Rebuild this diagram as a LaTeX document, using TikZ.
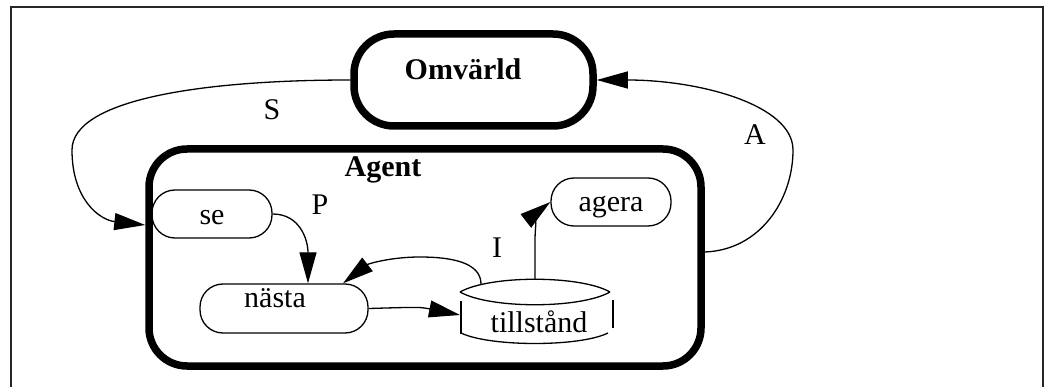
\documentclass[tikz,border=0pt]{standalone}
\usepackage{fontspec}
\setmainfont{Liberation Serif}
\usetikzlibrary{arrows.meta}
\begin{document}
\begin{tikzpicture}[x=1pt,y=-1pt,
  txt/.style={font=\fontsize{30}{36}\selectfont, inner sep=0pt, anchor=base},
  btxt/.style={font=\fontsize{30}{36}\selectfont\bfseries, inner sep=0pt, anchor=base},
  thickbox/.style={draw, line width=7.5pt, rounded corners=40pt, inner sep=0pt},
  thinbox/.style={draw, line width=1.3pt, rounded corners=23pt, inner sep=0pt},
  flow/.style={line width=1.3pt, -{Triangle[length=31pt,width=17pt]}},
  plain/.style={line width=1.3pt}]
\useasboundingbox (0,0) rectangle (1044,387);

% frame
\draw[line width=2pt, black!85] (11,387) -- (11,7) -- (1043,7) -- (1043,387);

% environment and agent
\node[thickbox, minimum width=239pt, minimum height=92pt] (omv) at (473.5,80) {};
\node[btxt] (omvt) at (463,80) {Omvärld};
\node[thickbox, rounded corners=38pt, minimum width=552pt, minimum height=217pt] (agent) at (425,257.5) {};
\node[btxt] (agentt) at (383,177) {Agent};

% inner components
\node[thinbox, minimum width=120pt, minimum height=48pt] (se) at (212,214) {};
\node[txt] (set) at (212,225) {se};
\node[thinbox, minimum width=168pt, minimum height=49pt] (nasta) at (284,308.5) {};
\node[txt] (nastat) at (275,308) {nästa};
\node[thinbox, minimum width=120pt, minimum height=48pt] (agera) at (611,202) {};
\node[txt] (ager) at (611,212) {agera};

% state store
\node[txt] (tl) at (539,332) {tillstånd};
\draw[plain] (460,292) .. controls (490,275) and (580,275) .. (610,292);
\draw[plain] (460,292) .. controls (490,309) and (580,309) .. (610,292);
\draw[plain] (461,301) -- (461,334);
\draw[plain] (613,300) -- (613,328);
\draw[plain] (461,333) .. controls (490,347) and (580,347) .. (608,333);
\coordinate (tlin) at (460,315);
\coordinate (tlI) at (481,284);
\coordinate (tlA) at (535,279);

% edge labels
\node[txt] (S) at (272,120) {S};
\node[txt] (A) at (755,145) {A};
\node[txt] (P) at (320,215) {P};
\node[txt] (I) at (497,258) {I};

% connectors
\draw[flow] (omv.west) .. controls (200,80) and (72,100) .. (72,150)
  .. controls (72,200) and (100,220) .. (agent.west |- 0,225);
\draw[flow] (agent.east |- 0,252) .. controls (760,250) and (793,200) .. (793,150)
  .. controls (793,105) and (700,80) .. (omv.east);
\draw[flow] (se.east) .. controls (300,214) and (308,240) .. (nasta.north -| 308,0);
\draw[flow] (nasta.east) .. controls (420,307) .. (tlin);
\draw[flow] (tlI) .. controls (481,262) and (450,257) .. (420,257)
  .. controls (390,257) and (368,264) .. (nasta.north -| 343,0);
\draw[flow] (tlA) -- (535,240) .. controls (535,222) and (540,210) .. (agera.west);
\end{tikzpicture}
\end{document}
